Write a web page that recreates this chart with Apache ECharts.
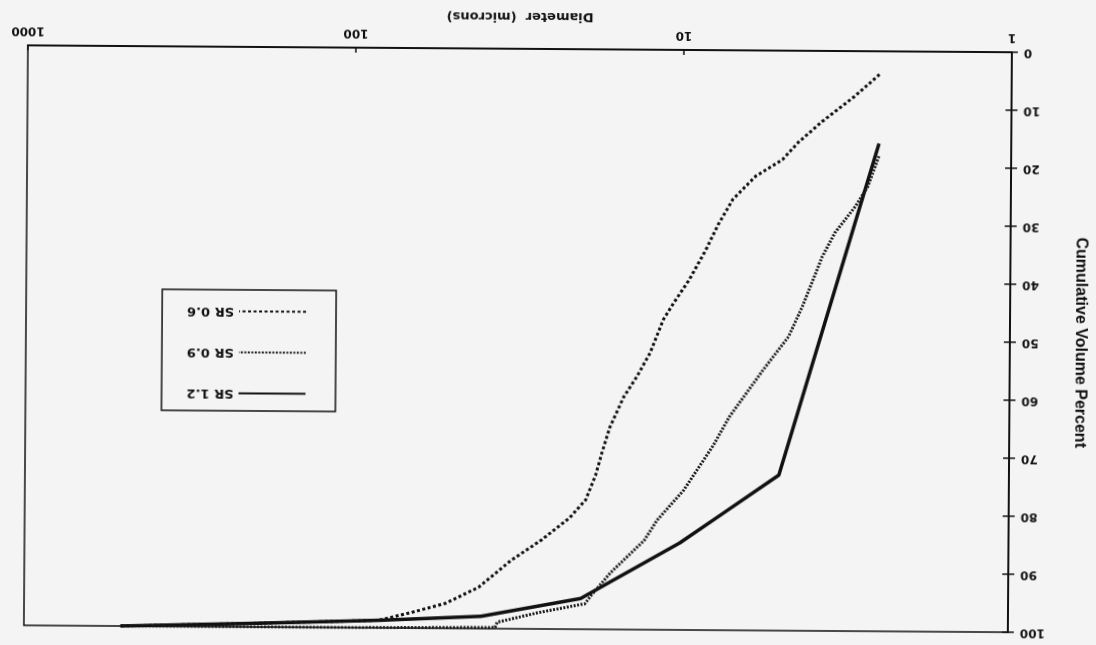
<!DOCTYPE html>
<html>
<head>
<meta charset="utf-8">
<script src="https://cdn.jsdelivr.net/npm/echarts@6/dist/echarts.min.js"></script>
<style>
  html, body { margin: 0; padding: 0; background: #f4f4f4; overflow: hidden; }
  #wrap { width: 1096px; height: 645px; transform: rotate(180.4deg); transform-origin: 50% 50%; }
  #chart { width: 1096px; height: 645px; }
</style>
</head>
<body>
<div id="wrap"><div id="chart"></div></div>
<script>
// Diameter (microns) and cumulative volume percent
const seriesNames = ['SR 1.2', 'SR 0.9', 'SR 0.6'];

const sr12Diam = [2.53, 5.03, 7.41, 10.05, 20.1, 40.4, 82.8, 205, 508];
const sr12Pct  = [15.9, 73.2, 79.8, 85.0, 94.7, 97.9, 98.7, 99.4, 100];

const sr09Diam = [2.53, 2.73, 2.98, 3.43, 3.75, 4.30, 4.73, 5.65, 7.14, 7.97, 9.80, 11.8, 12.9, 16.3, 18.7, 19.5, 27.1, 36.1, 36.6, 100, 250, 508];
const sr09Pct  = [18.1, 23.3, 26.8, 31.3, 35.5, 44.1, 49.3, 55.1, 63.2, 68.1, 75.9, 81.1, 84.6, 90.2, 94.2, 95.6, 97.2, 98.9, 99.8, 100, 100, 100];

const sr06Diam = [2.53, 3.01, 3.78, 4.46, 4.98, 6.01, 7.04, 7.80, 8.48, 9.52, 10.6, 11.4, 12.5, 13.7, 15.0, 16.5, 17.4, 18.2, 19.5, 21.8, 26.6, 32.8, 41.2, 51.9, 65.8, 82.8, 205, 508];
const sr06Pct  = [4.0, 7.8, 12.2, 15.8, 18.8, 21.7, 25.7, 30.1, 34.4, 39.6, 43.6, 46.5, 52.3, 56.4, 59.9, 65.1, 69.4, 73.4, 77.7, 80.8, 84.7, 88.2, 92.9, 95.7, 97.3, 98.7, 99.4, 100];

const xTitle = 'Diameter  (microns)';
const yTitle = 'Cumulative Volume Percent';

function pairs(xs, ys) { return xs.map((x, i) => [x, ys[i]]); }

const ink = '#111';
const labelFont = { fontFamily: 'DejaVu Sans', fontWeight: 'bold', fontSize: 12, color: ink };

const chart = echarts.init(document.getElementById('chart'), null, { renderer: 'canvas' });
chart.setOption({
  backgroundColor: '#f4f4f4',
  animation: false,
  grid: { left: 80, right: 26, top: 16, bottom: 49, show: true, borderColor: ink, borderWidth: 1.5, backgroundColor: 'transparent' },
  xAxis: {
    type: 'log', logBase: 10, min: 1, max: 1000,
    axisLine: { show: true, lineStyle: { color: ink, width: 2 } },
    axisTick: { show: true, inside: true, length: 5, lineStyle: { color: ink, width: 1.5 } },
    minorTick: { show: false },
    splitLine: { show: false },
    axisLabel: Object.assign({ margin: 9, formatter: function (v) { return String(Math.round(v)); } }, labelFont),
    name: xTitle, nameLocation: 'middle', nameGap: 26,
    nameTextStyle: { fontFamily: 'DejaVu Sans', fontWeight: 'bold', fontSize: 13, color: ink }
  },
  yAxis: [{
    type: 'value', min: 0, max: 100, interval: 10,
    axisLine: { show: true, lineStyle: { color: ink, width: 2 } },
    axisTick: { show: true, length: 6, lineStyle: { color: ink, width: 1.5 } },
    splitLine: { show: false },
    axisLabel: Object.assign({ margin: 12 }, labelFont),
    name: yTitle, nameLocation: 'middle', nameGap: 62,
    nameTextStyle: { fontFamily: 'Liberation Sans Narrow, Liberation Sans, Arial', fontWeight: 'bold', fontSize: 16, color: ink }
  }, {
    type: 'value', min: 0, max: 100, interval: 10, position: 'left', offset: 0,
    axisLine: { show: false },
    axisTick: { show: true, inside: true, length: 6, lineStyle: { color: ink, width: 1.5 } },
    axisLabel: { show: false },
    splitLine: { show: false }
  }],
  legend: {
    orient: 'vertical', left: 760, top: 232,
    itemWidth: 67, itemHeight: 14, itemGap: 28,
    padding: [11, 25, 15, 29],
    borderColor: ink, borderWidth: 1.5,
    itemStyle: { opacity: 0 },
    textStyle: { fontFamily: 'DejaVu Sans', fontWeight: 'bold', fontSize: 13, color: ink },
    data: seriesNames
  },
  series: [
    { name: seriesNames[0], type: 'line', showSymbol: false, symbol: 'none', data: pairs(sr12Diam, sr12Pct),
      lineStyle: { color: ink, width: 3.5, type: 'solid' }, itemStyle: { color: ink } },
    { name: seriesNames[1], type: 'line', showSymbol: false, symbol: 'none', data: pairs(sr09Diam, sr09Pct),
      lineStyle: { color: '#1a1a1a', width: 3, type: [2, 1.5] }, itemStyle: { color: '#1a1a1a' } },
    { name: seriesNames[2], type: 'line', showSymbol: false, symbol: 'none', data: pairs(sr06Diam, sr06Pct),
      lineStyle: { color: ink, width: 3, type: [3, 2.5] }, itemStyle: { color: ink } }
  ]
});
</script>
</body>
</html>
